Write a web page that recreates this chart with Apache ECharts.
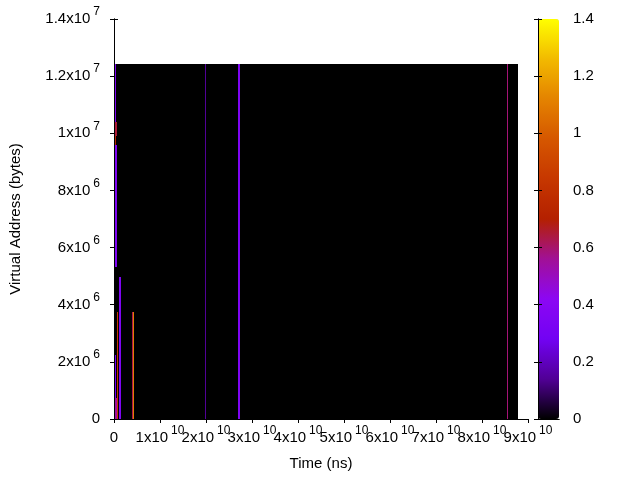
<!DOCTYPE html>
<html>
<head>
<meta charset="utf-8">
<script src="https://cdn.jsdelivr.net/npm/echarts@6/dist/echarts.min.js"></script>
<style>html,body{margin:0;padding:0;background:#fff}#c{width:640px;height:480px}</style>
</head>
<body>
<div id="c"></div>
<script>
// ---- data (time in ns, address in bytes, intensity) ----
var timeStart  = [0,       2.0e8,   2.0e8,   2.0e8,  2.0e8,  1.0e9,  6.5e8,  3.91e9, 4.1e9,  2.0e8,  2.0e8,  1.97e10, 2.70e10, 8.55e10];
var timeEnd    = [8.78e10, 3.5e8,   6.5e8,   3.5e8,  6.5e8,  1.5e9,  8.5e8,  4.1e9,  4.3e9,  3.5e8,  6.5e8,  1.99e10, 2.73e10, 8.57e10];
var addrStart  = [0,       1.039e7, 9.89e6,  9.58e6, 5.33e6, 0,      0,      0,      0,      0,      0,      0,       0,       0];
var addrEnd    = [1.242e7, 1.242e7, 1.039e7, 9.89e6, 9.58e6, 4.98e6, 3.75e6, 3.75e6, 3.75e6, 2.25e6, 7.4e5,  1.242e7, 1.242e7, 1.242e7];
var intensity  = [0,       0.35,    0.65,    0.75,   0.35,   0.35,   0.85,   0.63,   1.1,    0.3,    0.55,   0.14,    0.35,    0.59];

var xTicks = {min: 0, max: 9e10, interval: 1e10};
var yTicks = {min: 0, max: 1.4e7, interval: 2e6};
var cbTicks = {min: 0, max: 1.4, interval: 0.2};

var rows = timeStart.map(function (t, i) {
  return [t, timeEnd[i], addrStart[i], addrEnd[i], intensity[i]];
});

var FONT = 'Liberation Sans';
function sci(v) {
  if (v === 0) return '{b|0}';
  var e = Math.floor(Math.log10(v) + 1e-9);
  var m = +(v / Math.pow(10, e)).toFixed(2);
  return '{b|' + m + 'x10}{s|' + e + '}';
}
var rich = {
  b: {fontFamily: FONT, fontSize: 15, color: '#000', lineHeight: 28},
  s: {fontFamily: FONT, fontSize: 12, color: '#000', lineHeight: 14, padding: [0, 0, 14, 3]}
};

// gnuplot default palette (rgbformulae 7,5,15) sampled
var palette = ['#000000', '#510096', '#7202f3', '#8c07f3', '#a11096', '#b42000', '#c63700', '#d55700', '#e48300', '#f2ba00', '#ffff00'];

var chart = echarts.init(document.getElementById('c'), null, {renderer: 'canvas'});
var axLine = {show: true, lineStyle: {color: '#000', width: 1}};
var tickIn = {show: true, inside: true, length: 4, lineStyle: {color: '#000'}};

chart.setOption({
  backgroundColor: '#fff',
  animation: false,
  grid: [
    {left: 114, top: 19, width: 414, height: 400},
    {left: 538, top: 19, width: 21, height: 400}
  ],
  xAxis: [
    {type: 'value', gridIndex: 0, position: 'bottom', min: xTicks.min, max: xTicks.max, interval: xTicks.interval,
     axisLine: axLine, axisTick: tickIn, splitLine: {show: false},
     axisLabel: {margin: 5, formatter: sci, rich: rich, showMinLabel: true, showMaxLabel: false},
     name: 'Time (ns)', nameLocation: 'middle', nameGap: 36,
     nameTextStyle: {fontFamily: FONT, fontSize: 15, color: '#000'}},
    {type: 'value', gridIndex: 0, position: 'top', min: xTicks.min, max: xTicks.max, interval: xTicks.interval,
     axisLine: axLine, axisTick: tickIn, splitLine: {show: false}, axisLabel: {show: false}},
    {type: 'value', gridIndex: 1, position: 'bottom', min: 0, max: 1, z: 10,
     axisLine: axLine, axisTick: {show: false}, splitLine: {show: false}, axisLabel: {show: false}},
    {type: 'value', gridIndex: 1, position: 'top', min: 0, max: 1, z: 10,
     axisLine: axLine, axisTick: {show: false}, splitLine: {show: false}, axisLabel: {show: false}},
    // carries only the last tick label (9x10^10), which overlaps its neighbour as in the original
    {type: 'value', gridIndex: 0, position: 'bottom', min: xTicks.min, max: xTicks.max, interval: xTicks.max,
     axisLine: {show: false}, axisTick: {show: false}, splitLine: {show: false},
     axisLabel: {margin: 5, rich: rich, showMinLabel: true, showMaxLabel: true,
                 formatter: function (v) { return v === xTicks.max ? sci(v) : ''; }}}
  ],
  yAxis: [
    {type: 'value', gridIndex: 0, position: 'left', min: yTicks.min, max: yTicks.max, interval: yTicks.interval,
     axisLine: axLine, axisTick: tickIn, splitLine: {show: false},
     axisLabel: {margin: 14, formatter: sci, rich: rich, showMinLabel: true, showMaxLabel: true}},
    {type: 'value', gridIndex: 0, position: 'right', min: yTicks.min, max: yTicks.max, interval: yTicks.interval,
     axisLine: axLine, axisTick: tickIn, splitLine: {show: false}, axisLabel: {show: false}},
    {type: 'value', gridIndex: 1, position: 'right', min: cbTicks.min, max: cbTicks.max, interval: cbTicks.interval, z: 10,
     axisLine: axLine, axisTick: tickIn, splitLine: {show: false},
     axisLabel: {margin: 14, fontFamily: FONT, fontSize: 15, color: '#000', showMinLabel: true, showMaxLabel: true}},
    {type: 'value', gridIndex: 1, position: 'left', min: cbTicks.min, max: cbTicks.max, interval: cbTicks.interval, z: 10,
     axisLine: axLine, axisTick: tickIn, splitLine: {show: false}, axisLabel: {show: false}}
  ],
  visualMap: {
    type: 'continuous', min: cbTicks.min, max: cbTicks.max, dimension: 4, seriesIndex: 0,
    show: true, calculable: false, hoverLink: false, text: null, showLabel: false,
    left: 538, top: 19, itemWidth: 21, itemHeight: 400, padding: 0,
    inRange: {color: palette}
  },
  graphic: [{
    type: 'text', x: 16, y: 219, rotation: Math.PI / 2,
    style: {text: 'Virtual Address (bytes)', fontFamily: FONT, fontSize: 15, fill: '#000',
            align: 'center', verticalAlign: 'middle'}
  }],
  series: [{
    type: 'custom', xAxisIndex: 0, yAxisIndex: 0,
    dimensions: ['t0', 't1', 'a0', 'a1', 'v'],
    encode: {x: [0, 1], y: [2, 3]},
    data: rows,
    renderItem: function (params, api) {
      var p0 = api.coord([api.value(0), api.value(3)]);
      var p1 = api.coord([api.value(1), api.value(2)]);
      var x0 = Math.round(p0[0]), x1 = Math.round(p1[0]);
      var y0 = Math.round(p0[1]), y1 = Math.round(p1[1]);
      return {
        type: 'rect',
        shape: {x: x0, y: y0, width: Math.max(x1 - x0, 1), height: y1 - y0},
        style: {fill: api.visual('color')}
      };
    }
  }]
});
</script>
</body>
</html>
